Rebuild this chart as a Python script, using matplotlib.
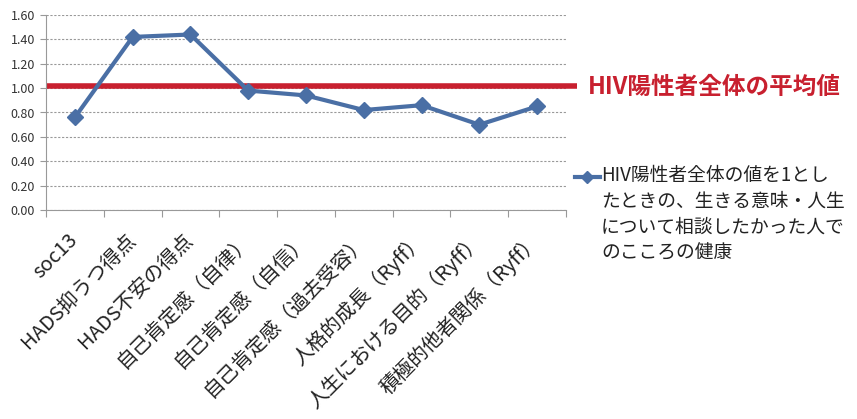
import matplotlib.pyplot as plt
from matplotlib.lines import Line2D

plt.rcParams['font.family'] = ['Noto Sans CJK JP', 'DejaVu Sans']

# データ
categories = ["soc13", "HADS抑うつ得点", "HADS不安の得点", "自己肯定感（自律）",
              "自己肯定感（自信）", "自己肯定感（過去受容）", "人格的成長（Ryff）",
              "人生における目的（Ryff）", "積極的他者関係（Ryff）"]
values = [0.76, 1.42, 1.44, 0.98, 0.94, 0.82, 0.86, 0.70, 0.85]
average = 1.02
series_label = "HIV陽性者全体の値を1とし\nたときの、生きる意味・人生\nについて相談したかった人で\nのこころの健康"
average_label = "HIV陽性者全体の平均値"

blue = "#4A6FA5"
red = "#C8202F"

fig = plt.figure(figsize=(8.57, 4.19), dpi=100)
ax = fig.add_axes([46/857, 1 - 210/419, 520/857, 195/419])

x = list(range(len(categories)))
ax.set_xlim(-0.5, len(categories) - 0.5)
ax.set_ylim(0, 1.6)

# 平均値ライン（軸の右外まで少しはみ出す）
ax.plot([-0.5, len(categories) - 0.31], [average, average], color=red,
        linewidth=4, clip_on=False, zorder=2, solid_capstyle='butt')

ax.plot(x, values, color=blue, linewidth=3, marker='D', markersize=8.5,
        zorder=3, clip_on=False)

# 軸まわり
ax.set_yticks([i * 0.2 for i in range(9)])
ax.set_yticklabels([f"{i * 0.2:.2f}" for i in range(9)], fontsize=9, color="#333333")
ax.grid(axis='y', linestyle=(0, (2, 1.5)), color="#999999", linewidth=0.8)
ax.set_axisbelow(True)
for s in ['top', 'right']:
    ax.spines[s].set_visible(False)
ax.spines['left'].set_color("#999999")
ax.spines['bottom'].set_color("#999999")
ax.tick_params(axis='y', length=4, color="#999999", pad=4)

ax.set_xticks([i - 0.5 for i in range(len(categories) + 1)])
ax.set_xticklabels([])
ax.tick_params(axis='x', length=5, color="#999999", direction='out')
ax.set_xticks([i - 0.13 for i in x], minor=True)
ax.set_xticklabels(categories, minor=True, rotation=45, ha='right',
                   rotation_mode='anchor', fontsize=14.5, color="#222222")
ax.tick_params(axis='x', which='minor', length=0, pad=14)

# 凡例
fig.text(588/857, 1 - 87/419, average_label, color=red, fontsize=17,
         fontweight='bold', va='center', ha='left')
fig.add_artist(Line2D([575/857, 600/857], [1 - 177/419, 1 - 177/419],
                      transform=fig.transFigure, color=blue, linewidth=3))
fig.add_artist(Line2D([587/857], [1 - 177/419], transform=fig.transFigure,
                      color=blue, marker='D', markersize=6))
fig.text(601/857, 1 - 165/419, series_label, color="#222222", fontsize=13.5,
         va='top', ha='left', linespacing=1.3)

plt.savefig("out.png", dpi=100)
